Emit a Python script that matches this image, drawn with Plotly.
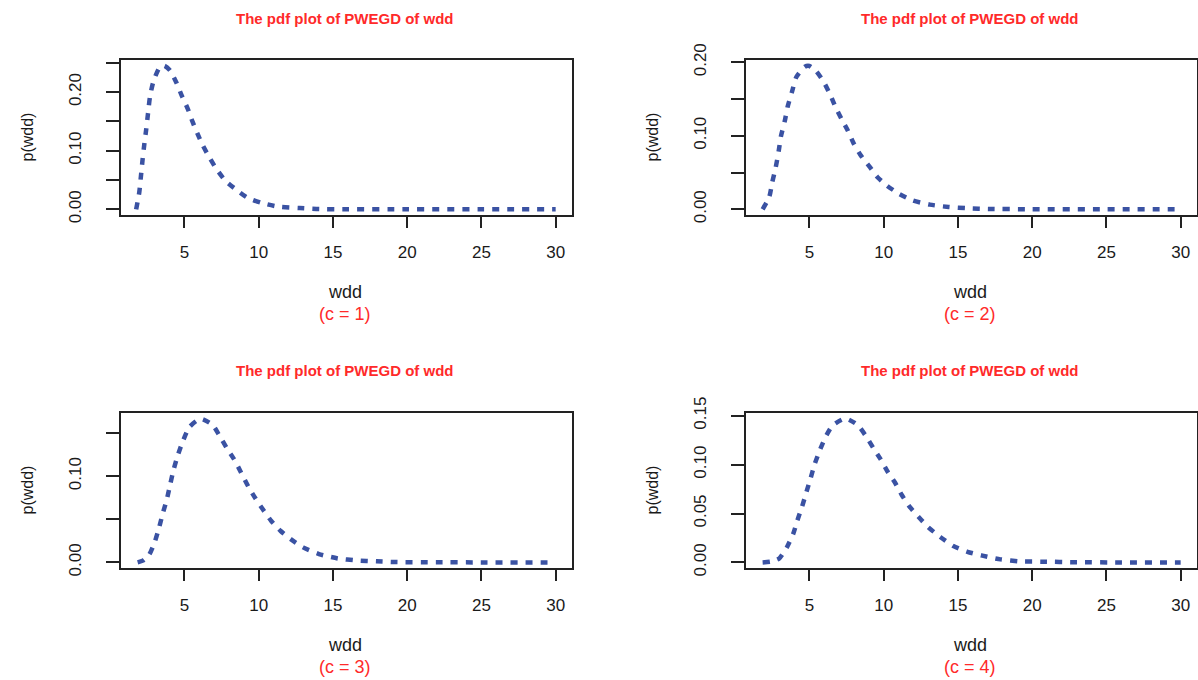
import plotly.graph_objects as go

W, H = 1198, 680

# ---------------- data ----------------
wdd_c1 = [1.75, 1.96, 2.07, 2.18, 2.30, 2.43, 2.55, 2.68, 2.91, 3.33, 3.65, 4.03, 4.48, 4.82,
          5.22, 5.54, 5.88, 6.26, 6.67, 7.18, 7.79, 8.47, 9.23, 10.2, 11.35, 12.77, 14.07,
          16.0, 20.0, 25.0, 30.0]
pdf_c1 = [0.0, 0.029, 0.056, 0.084, 0.111, 0.137, 0.164, 0.192, 0.218, 0.242, 0.245, 0.237,
          0.215, 0.194, 0.172, 0.150, 0.129, 0.108, 0.089, 0.068, 0.048, 0.034, 0.020, 0.011,
          0.0044, 0.0022, 0.0005, 0.0001, 0.0, 0.0, 0.0]

wdd_c2 = [1.85, 2.30, 2.50, 2.73, 2.93, 3.09, 3.34, 3.54, 3.83, 4.12, 4.69, 5.0, 5.45, 5.97,
          6.40, 6.76, 7.16, 7.59, 7.97, 8.47, 9.05, 9.57, 10.23, 11.04, 11.96, 13.11, 14.37,
          15.70, 17.05, 20.0, 25.0, 30.0]
pdf_c2 = [0.0, 0.017, 0.037, 0.057, 0.079, 0.100, 0.120, 0.140, 0.160, 0.180, 0.194, 0.195,
          0.188, 0.173, 0.156, 0.139, 0.123, 0.107, 0.090, 0.073, 0.058, 0.044, 0.032, 0.021,
          0.012, 0.0063, 0.0031, 0.0014, 0.0005, 0.0001, 0.0, 0.0]

wdd_c3 = [1.85, 2.20, 2.63, 3.01, 3.29, 3.54, 3.83, 4.05, 4.28, 4.55, 4.91, 5.34, 6.08, 6.90,
          7.37, 7.87, 8.35, 8.82, 9.30, 9.79, 10.28, 10.85, 11.48, 12.18, 12.99, 14.06, 15.32,
          16.59, 17.94, 19.23, 22.0, 25.0, 30.0]
pdf_c3 = [0.0, 0.002, 0.009, 0.024, 0.040, 0.0565, 0.074, 0.091, 0.108, 0.124, 0.141, 0.157,
          0.1665, 0.1594, 0.1466, 0.132, 0.1195, 0.104, 0.088, 0.074, 0.0615, 0.048, 0.0364,
          0.0267, 0.0174, 0.0097, 0.0046, 0.0023, 0.0012, 0.0004, 0.0001, 0.0, 0.0]

wdd_c4 = [1.85, 2.40, 2.97, 3.49, 3.92, 4.19, 4.51, 4.80, 5.09, 5.34, 5.68, 6.06, 6.56, 7.42,
          8.25, 8.82, 9.32, 9.79, 10.26, 10.74, 11.21, 11.73, 12.34, 12.99, 13.81, 14.69,
          15.64, 16.65, 17.87, 19.2, 20.6, 23.0, 26.0, 30.0]
pdf_c4 = [0.0, 0.0008, 0.0041, 0.0157, 0.0297, 0.043, 0.0573, 0.072, 0.0866, 0.0999, 0.1139,
          0.1275, 0.140, 0.1472, 0.1405, 0.1288, 0.1166, 0.1057, 0.093, 0.0822, 0.0692, 0.0573,
          0.0467, 0.0362, 0.026, 0.0168, 0.0109, 0.0069, 0.0031, 0.001, 0.0008, 0.0002, 0.0, 0.0]

x_tickvals = [5, 10, 15, 20, 25, 30]
x_ticktext = ["5", "10", "15", "20", "25", "30"]

y_tickvals_c1 = [0.0, 0.05, 0.10, 0.15, 0.20, 0.25]
y_ticktext_c1 = ["0.00", "", "0.10", "", "0.20", ""]
y_tickvals_c2 = [0.0, 0.05, 0.10, 0.15, 0.20]
y_ticktext_c2 = ["0.00", "", "0.10", "", "0.20"]
y_tickvals_c3 = [0.0, 0.05, 0.10, 0.15]
y_ticktext_c3 = ["0.00", "", "0.10", ""]
y_tickvals_c4 = [0.0, 0.05, 0.10, 0.15]
y_ticktext_c4 = ["0.00", "0.05", "0.10", "0.15"]

c_labels = ["(c = 1)", "(c = 2)", "(c = 3)", "(c = 4)"]
panel_title = "The pdf plot of PWEGD of wdd"
x_title = "wdd"
y_title = "p(wdd)"

# ---------------- layout geometry (pixels) ----------------
# plot boxes: (left, right, top, bottom)
boxes = [(121, 572, 60, 215), (746, 1197, 60, 215),
         (121, 572, 413, 568), (746, 1197, 413, 568)]
y_ranges = [[-0.0097, 0.2548], [-0.0078, 0.2031], [-0.0065, 0.1732], [-0.0057, 0.1528]]
x_range = [0.73, 31.1]

series = [(wdd_c1, pdf_c1), (wdd_c2, pdf_c2), (wdd_c3, pdf_c3), (wdd_c4, pdf_c4)]
yticks = [(y_tickvals_c1, y_ticktext_c1), (y_tickvals_c2, y_ticktext_c2),
          (y_tickvals_c3, y_ticktext_c3), (y_tickvals_c4, y_ticktext_c4)]

LINE_COLOR = "#3A52A3"
FONT = "Liberation Sans, Arial, sans-serif"
TXT = "#1a1a1a"
RED = "#FF2A2A"

fig = go.Figure()
annotations = []


def px_x(v):
    return v / W


def px_y(v):
    return 1 - v / H


for i, ((xs, ys), (l, r, t, b), yr, (tv, tt)) in enumerate(zip(series, boxes, y_ranges, yticks)):
    n = i + 1
    xa = "x" if n == 1 else f"x{n}"
    ya = "y" if n == 1 else f"y{n}"
    fig.add_trace(go.Scatter(
        x=xs, y=ys, mode="lines", xaxis=xa, yaxis=ya,
        line=dict(color=LINE_COLOR, width=4.5, dash="7px,8px", shape="spline", smoothing=0.6),
        showlegend=False, hoverinfo="skip",
    ))
    xkey = "xaxis" if n == 1 else f"xaxis{n}"
    ykey = "yaxis" if n == 1 else f"yaxis{n}"
    fig.layout[xkey] = dict(
        domain=[px_x(l), px_x(r)], anchor=ya, range=x_range, automargin=False,
        showline=True, mirror=True, linecolor="#222", linewidth=1.6,
        showgrid=False, zeroline=False,
        ticks="outside", ticklen=11, tickwidth=1.5, tickcolor="#222",
        tickvals=x_tickvals, ticktext=x_ticktext, ticklabelstandoff=10,
        tickfont=dict(family=FONT, size=17, color=TXT),
    )
    fig.layout[ykey] = dict(
        domain=[px_y(b), px_y(t)], anchor=xa, range=yr, automargin=False,
        showline=True, mirror=True, linecolor="#222", linewidth=1.6,
        showgrid=False, zeroline=False,
        ticks="outside", ticklen=13, tickwidth=1.5, tickcolor="#222",
        tickvals=tv, ticktext=tt, tickangle=-90, ticklabelstandoff=18,
        tickfont=dict(family=FONT, size=17, color=TXT),
    )
    cx = (l + r) / 2 - 2
    annotations.append(dict(
        text=f"<b>{panel_title}</b>", x=px_x(cx), y=px_y(t - 42), xref="paper", yref="paper",
        xanchor="center", yanchor="middle", showarrow=False,
        font=dict(family=FONT, size=15, color=RED),
    ))
    annotations.append(dict(
        text=x_title, x=px_x(cx), y=px_y(b + 77), xref="paper", yref="paper",
        xanchor="center", yanchor="middle", showarrow=False,
        font=dict(family=FONT, size=18, color=TXT),
    ))
    annotations.append(dict(
        text=c_labels[i], x=px_x(cx), y=px_y(b + 99), xref="paper", yref="paper",
        xanchor="center", yanchor="middle", showarrow=False,
        font=dict(family=FONT, size=18, color=RED),
    ))
    annotations.append(dict(
        text=y_title, x=px_x(l - 94), y=px_y((t + b) / 2), xref="paper", yref="paper",
        xanchor="center", yanchor="middle", showarrow=False, textangle=-90,
        font=dict(family=FONT, size=16, color=TXT),
    ))

fig.update_layout(
    width=W, height=H, margin=dict(l=0, r=0, t=0, b=0),
    paper_bgcolor="white", plot_bgcolor="white",
    annotations=annotations, showlegend=False,
)

fig.write_html("out.html")
